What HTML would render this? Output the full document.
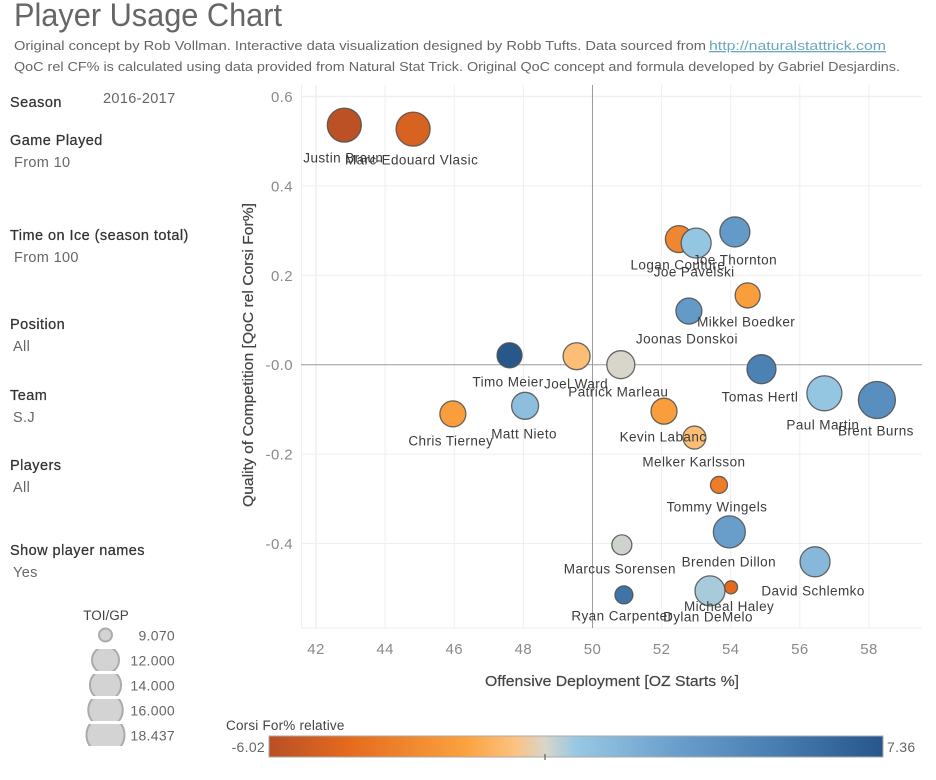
<!DOCTYPE html>
<html lang="en">
<head>
<meta charset="utf-8">
<title>Player Usage Chart</title>
<style>
html,body{margin:0;padding:0;background:#fff;width:936px;height:780px;overflow:hidden}
svg{display:block;font-family:"Liberation Sans",sans-serif}
.h{font-size:14.5px;fill:#333;stroke:#333;stroke-width:.25;letter-spacing:.45px}
.v{font-size:14.5px;fill:#666;letter-spacing:.35px}
.tick{font-size:15px;fill:#8a8a8a;letter-spacing:.4px}
.sub{font-size:13px;fill:#666}
.lab{font-size:13.5px;fill:#3c3c3c;letter-spacing:.42px;dominant-baseline:central;text-anchor:middle}
.axt{font-size:14.5px;fill:#444;stroke:#444;stroke-width:.2;text-anchor:middle}
.leg{font-size:14px;fill:#666;letter-spacing:.3px}
</style>
</head>
<body>
<svg id="root" width="936" height="780" viewBox="0 0 936 780">
  <defs>
    <linearGradient id="corsiGrad" x1="0" x2="1" y1="0" y2="0">
      <stop offset="0" stop-color="#b94f26"/>
      <stop offset="0.13" stop-color="#e56a1e"/>
      <stop offset="0.32" stop-color="#fba23f"/>
      <stop offset="0.4" stop-color="#fcc27f"/>
      <stop offset="0.45" stop-color="#d8d5ca"/>
      <stop offset="0.5" stop-color="#98c8e2"/>
      <stop offset="0.667" stop-color="#699ecb"/>
      <stop offset="0.815" stop-color="#4a80b2"/>
      <stop offset="1" stop-color="#27568a"/>
    </linearGradient>
  </defs>

  <text x="14" y="26" font-size="32" fill="#666" textLength="268" lengthAdjust="spacingAndGlyphs">Player Usage Chart</text>
  <text class="sub" x="14" y="50" textLength="692" lengthAdjust="spacingAndGlyphs">Original concept by Rob Vollman.  Interactive data visualization designed by Robb Tufts.  Data sourced from</text>
  <text class="sub" x="709" y="50" textLength="177" lengthAdjust="spacingAndGlyphs" style="fill:#6aa8bd;text-decoration:underline">http://naturalstattrick.com</text>
  <text class="sub" x="14" y="71" textLength="886" lengthAdjust="spacingAndGlyphs">QoC rel CF% is calculated using data provided from Natural Stat Trick.  Original QoC concept and formula developed by Gabriel Desjardins.</text>

  <g>
    <text class="h" x="10" y="107">Season</text>
    <text class="v" x="103" y="103">2016-2017</text>
    <text class="h" x="10" y="145">Game Played</text>
    <text class="v" x="14" y="167">From 10</text>
    <text class="h" x="10" y="240">Time on Ice (season total)</text>
    <text class="v" x="14" y="262">From 100</text>
    <text class="h" x="10" y="329">Position</text>
    <text class="v" x="13" y="351">All</text>
    <text class="h" x="10" y="400">Team</text>
    <text class="v" x="13" y="422">S.J</text>
    <text class="h" x="10" y="470">Players</text>
    <text class="v" x="13" y="492">All</text>
    <text class="h" x="10" y="555">Show player names</text>
    <text class="v" x="13" y="577">Yes</text>
  </g>

  <g id="sizeLegend">
    <text x="106" y="620" text-anchor="middle" font-size="13.5" fill="#444">TOI/GP</text>
  </g>

  <g id="grid"></g>
  <g id="axes">
    <text class="axt" x="612" y="686" textLength="254" lengthAdjust="spacingAndGlyphs">Offensive Deployment [OZ Starts %]</text>
    <text class="axt" transform="translate(253,355) rotate(-90)" textLength="304" lengthAdjust="spacingAndGlyphs">Quality of Competition [QoC rel Corsi For%]</text>
  </g>
  <g id="marks"></g>
  <g id="labels"></g>

  <g>
    <text x="226" y="730" font-size="13.5" fill="#444" letter-spacing=".2">Corsi For% relative</text>
    <rect x="269" y="736" width="614" height="21" fill="url(#corsiGrad)" stroke="#aaa" stroke-width="1"/>
    <line x1="545" x2="545" y1="754" y2="760" stroke="#444" stroke-width="1"/>
    <text class="leg" x="265" y="752" text-anchor="end">-6.02</text>
    <text class="leg" x="887" y="752">7.36</text>
  </g>
</svg>

<script>
const playerNames = ["Justin Braun","Marc-Edouard Vlasic","Logan Couture","Joe Pavelski","Joe Thornton","Mikkel Boedker","Joonas Donskoi","Timo Meier","Joel Ward","Patrick Marleau","Tomas Hertl","Paul Martin","Brent Burns","Chris Tierney","Matt Nieto","Kevin Labanc","Melker Karlsson","Tommy Wingels","Brenden Dillon","Marcus Sorensen","David Schlemko","Micheal Haley","Dylan DeMelo","Ryan Carpenter"];
const ozStarts = [42.82,44.81,52.50,53.00,54.12,54.49,52.79,47.60,49.54,50.82,54.89,56.71,58.23,45.96,48.05,52.07,52.95,53.66,53.96,50.85,56.44,54.01,53.40,50.91];
const qocRelCf = [0.536,0.527,0.281,0.272,0.297,0.155,0.120,0.021,0.019,0.000,-0.010,-0.064,-0.079,-0.110,-0.092,-0.104,-0.163,-0.269,-0.374,-0.403,-0.441,-0.498,-0.506,-0.515];
const toiPerGp = [15.68,15.68,12.0,13.4,13.4,11.23,11.6,11.23,12.0,12.44,12.91,16.32,17.70,11.6,12.0,11.6,10.57,9.31,14.48,9.80,13.4,9.07,13.4,9.44];
const corsiRel = [-5.9,-4.8,-3.0,0.8,3.2,-1.9,3.2,7.3,-0.8,0.0,4.8,0.8,3.9,-1.9,1.2,-1.9,-0.8,-3.4,2.9,0.1,1.5,-4.3,0.5,5.6];
const xTicks = [42,44,46,48,50,52,54,56,58];
const yTicks = [0.6,0.4,0.2,0,-0.2,-0.4];
const yTickLabels = ["0.6","0.4","0.2","-0.0","-0.2","-0.4"];
const sizeLegendValues = [9.07,12,14,16,18.437];
const sizeLegendLabels = ["9.070","12.000","14.000","16.000","18.437"];
const corsiMin = -6.02;
const corsiMax = 7.36;

const NS = "http://www.w3.org/2000/svg";
const xScale = v => 316 + (v - 42) * 34.56;
const yScale = v => 364.7 - v * 447;
const rScale = v => {
  const t = Math.max(0, (v - 9.07) / (18.437 - 9.07));
  return 6.5 + 12.5 * Math.sqrt(t);
};
const rampStops = [[0,[185,79,38]],[0.13,[229,106,30]],[0.32,[251,162,63]],[0.4,[252,194,127]],[0.45,[216,213,202]],[0.5,[152,200,226]],[0.667,[105,158,203]],[0.815,[74,128,178]],[1,[39,86,138]]];
function colorScale(v){
  const t = Math.min(1, Math.max(0, (v - corsiMin) / (corsiMax - corsiMin)));
  for (let i = 1; i < rampStops.length; i++) {
    if (t <= rampStops[i][0]) {
      const a = rampStops[i-1], b = rampStops[i];
      const f = (t - a[0]) / (b[0] - a[0]);
      const c = a[1].map((q, k) => Math.round(q + (b[1][k] - q) * f));
      return "rgb(" + c.join(",") + ")";
    }
  }
  return "rgb(39,86,138)";
}
function mk(tag, parent, attrs, txt){
  const el = document.createElementNS(NS, tag);
  for (const k in attrs) el.setAttribute(k, attrs[k]);
  if (txt !== undefined) el.textContent = txt;
  parent.appendChild(el);
  return el;
}
const slug = s => s.toLowerCase().replace(/[^a-z0-9]+/g, "-");

const grid = document.getElementById("grid");
const axes = document.getElementById("axes");
const marks = document.getElementById("marks");
const labels = document.getElementById("labels");
const sizeLegend = document.getElementById("sizeLegend");

const plotL = 301, plotR = 922, plotT = 85, plotB = 628;

yTicks.forEach((v, i) => {
  if (v !== 0) {
    const gl = mk("line", grid, {x1: plotL, x2: plotR, y1: yScale(v), y2: yScale(v), stroke: "#efefef", "stroke-width": v === 0.6 ? 1.5 : 1});
    
    
  }
  const tl = mk("text", axes, {class: "tick", x: 293, y: yScale(v) + 5.5, "text-anchor": "end"}, yTickLabels[i]);
  
  
});
xTicks.forEach(v => {
  if (v !== 50) {
    const gl = mk("line", grid, {x1: xScale(v), x2: xScale(v), y1: plotT, y2: plotB, stroke: "#efefef", "stroke-width": v === 42 ? 1.5 : 1});
    
    
  }
  const tl = mk("text", axes, {class: "tick", x: xScale(v), y: 654, "text-anchor": "middle"}, String(v));
  
  
});
const leftEdge = mk("line", grid, {x1: plotL + .5, x2: plotL + .5, y1: plotT, y2: plotB, stroke: "#efefef"});


const bottomEdge = mk("line", grid, {x1: plotL, x2: plotR, y1: plotB, y2: plotB, stroke: "#efefef"});


const zeroH = mk("line", grid, {x1: plotL, x2: plotR, y1: yScale(0), y2: yScale(0), stroke: "#9a9a9a", "stroke-width": 1});


const zeroV = mk("line", grid, {x1: xScale(50), x2: xScale(50), y1: plotT, y2: plotB, stroke: "#9a9a9a", "stroke-width": 1});



/* Label nudges relative to each bubble centre (layout only, not data). */
const labelNudge = {"Justin Braun":[-1,33],"Marc-Edouard Vlasic":[-1.5,31],"Logan Couture":[-1,26],"Joe Pavelski":[-2,29],"Joe Thornton":[0,28],"Mikkel Boedker":[-1.5,26.5],"Joonas Donskoi":[-2,28],"Timo Meier":[-1.5,26.5],"Joel Ward":[-.5,28],"Patrick Marleau":[-2.5,27.5],"Tomas Hertl":[-1.5,28],"Paul Martin":[-1.5,31.5],"Brent Burns":[-1,31],"Chris Tierney":[-2,27],"Matt Nieto":[-1,28],"Kevin Labanc":[-1,26],"Melker Karlsson":[-.5,24.5],"Tommy Wingels":[-2,22],"Brenden Dillon":[-.5,30],"Marcus Sorensen":[-2,24],"David Schlemko":[-2,29],"Micheal Haley":[-2,19],"Dylan DeMelo":[-2,26],"Ryan Carpenter":[-2,21]};

playerNames.forEach((name, i) => {
  const cx = xScale(ozStarts[i]), cy = yScale(qocRelCf[i]);
  const c = mk("circle", marks, {cx: cx, cy: cy, r: rScale(toiPerGp[i]), fill: colorScale(corsiRel[i]), stroke: "#4d4d4d", "stroke-opacity": .85, "stroke-width": 1.3});
  
  
  const n = labelNudge[name];
  const t = mk("text", labels, {class: "lab", x: cx + n[0], y: cy + n[1]}, name);
  
  
});

sizeLegendValues.forEach((v, i) => {
  const cy = 635 + i * 25;
  const clipId = "legClip" + i;
  const defs = document.querySelector("defs");
  const clip = mk("clipPath", defs, {id: clipId});
  mk("rect", clip, {x: 70, y: cy - 11, width: 70, height: 22});
  const c = mk("circle", sizeLegend, {cx: 105.5, cy: cy, r: rScale(v), fill: "#d3d3d3", stroke: "#ababab", "stroke-width": 2, "clip-path": "url(#" + clipId + ")"});
  
  
  const t = mk("text", sizeLegend, {class: "leg", x: 175, y: cy + 5.5, "text-anchor": "end"}, sizeLegendLabels[i]);
  
  
});
</script>
</body>
</html>
